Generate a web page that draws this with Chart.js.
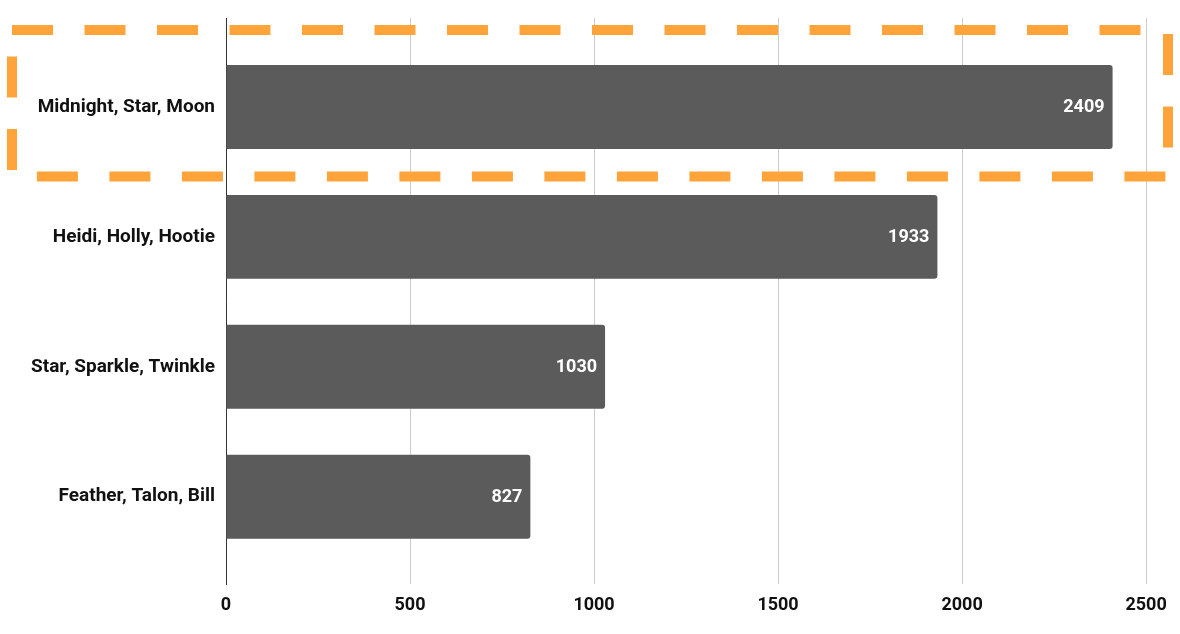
<!DOCTYPE html>
<html>
<head>
<meta charset="utf-8">
<script src="https://cdn.jsdelivr.net/npm/chart.js@4/dist/chart.umd.min.js"></script>
<style>
  html, body { margin: 0; padding: 0; background: #ffffff; }
  #wrap { width: 1180px; height: 634px; position: relative; }
</style>
</head>
<body>
<div id="wrap"><canvas id="c" width="1180" height="634"></canvas></div>
<script>
const categories = ["Midnight, Star, Moon", "Heidi, Holly, Hootie", "Star, Sparkle, Twinkle", "Feather, Talon, Bill"];
const values = [2409, 1933, 1030, 827];
const xTicks = [0, 500, 1000, 1500, 2000, 2500];
const highlightIndex = 0;

const FONT = "Roboto, 'Liberation Sans', Arial, sans-serif";

const valueLabels = {
  id: 'valueLabels',
  afterDatasetsDraw(chart) {
    const ctx = chart.ctx;
    const meta = chart.getDatasetMeta(0);
    ctx.save();
    ctx.font = "bold 18px " + FONT;
    ctx.fillStyle = "#ffffff";
    ctx.textAlign = "right";
    ctx.textBaseline = "middle";
    meta.data.forEach((bar, i) => {
      ctx.fillText(String(values[i]), bar.x - 8, bar.y + 1);
    });
    ctx.restore();
  }
};

const highlightBox = {
  id: 'highlightBox',
  afterDraw(chart) {
    const ctx = chart.ctx;
    const y = chart.scales.y;
    const top = y.getPixelForValue(highlightIndex - 0.592);
    const bottom = y.getPixelForValue(highlightIndex + 0.535);
    const left = 12;
    const right = chart.width - 12;
    ctx.save();
    ctx.strokeStyle = "#FFA33B";
    ctx.lineWidth = 10;
    ctx.setLineDash([41, 31.5]);
    ctx.lineCap = "butt";
    ctx.beginPath();
    ctx.moveTo(left, top);
    ctx.lineTo(right, top);
    ctx.lineTo(right, bottom);
    ctx.lineTo(left, bottom);
    ctx.closePath();
    ctx.stroke();
    ctx.restore();
  }
};

new Chart(document.getElementById('c'), {
  type: 'bar',
  data: {
    datasets: [{
      data: values.map((v, i) => ({ x: v, y: i })),
      backgroundColor: "#5b5b5b",
      borderWidth: 0,
      borderRadius: 3,
      borderSkipped: 'start',
      barPercentage: 0.646,
      categoryPercentage: 1.0
    }]
  },
  options: {
    indexAxis: 'y',
    responsive: false,
    animation: false,
    devicePixelRatio: 1,
    layout: { padding: { top: 18, right: 10, left: 0, bottom: 0 } },
    plugins: { legend: { display: false }, tooltip: { enabled: false } },
    scales: {
      x: {
        type: 'linear',
        position: 'bottom',
        min: 0,
        max: 2565,
        afterBuildTicks(scale) { scale.ticks = xTicks.map(v => ({ value: v })); },
        afterFit(scale) { scale.height = 50; },
        grid: { color: "#cccccc", lineWidth: 1, drawTicks: false },
        border: { display: false },
        ticks: {
          padding: 11,
          color: "#111111",
          font: { family: FONT, size: 18, weight: 'bold' },
          callback: (v) => String(v)
        }
      },
      y: {
        type: 'linear',
        reverse: true,
        offset: false,
        min: -0.685,
        max: 3.672,
        afterBuildTicks(scale) { scale.ticks = categories.map((c, i) => ({ value: i })); },
        afterFit(scale) { scale.width = 226; scale.paddingTop = 0; scale.paddingBottom = 0; },
        grid: { display: false, drawTicks: false, offset: false },
        border: { display: true, color: "#333333", width: 1 },
        ticks: {
          padding: 11,
          color: "#111111",
          font: { family: FONT, size: 19, weight: 'bold' },
          callback: (v) => categories[v]
        }
      }
    }
  },
  plugins: [valueLabels, highlightBox]
});
</script>
</body>
</html>
